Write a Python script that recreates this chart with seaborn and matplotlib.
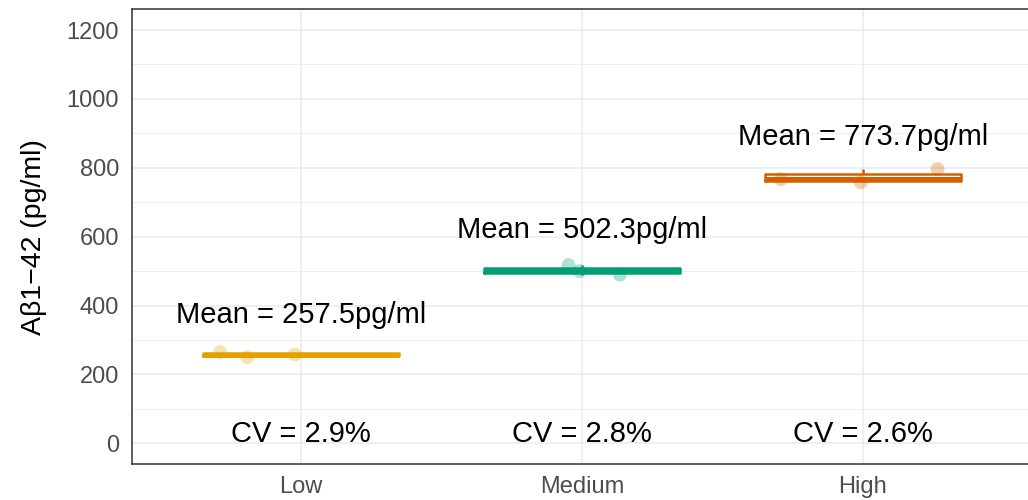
import numpy as np
import pandas as pd
import matplotlib
matplotlib.use("Agg")
import matplotlib.pyplot as plt
import seaborn as sns
from matplotlib.ticker import MultipleLocator

# =============================================================================
# Data
# =============================================================================
groups = ["Low", "Medium", "High"]
low_vals = [250.0, 265.0, 257.5]
medium_vals = [489.5, 517.5, 499.9]
high_vals = [767.0, 758.0, 796.1]
group_colors = ["#E69F00", "#009E73", "#D55E00"]
y_ticks = [0, 200, 400, 600, 800, 1000, 1200]

df = pd.DataFrame({
    "Group": np.repeat(groups, 3),
    "Abeta": low_vals + medium_vals + high_vals,
})
df["Group"] = pd.Categorical(df["Group"], categories=groups, ordered=True)

# mean and coefficient of variation per group
stats = df.groupby("Group", observed=True)["Abeta"].agg(["mean", "std"])
stats["cv"] = stats["std"] / stats["mean"] * 100

palette = dict(zip(groups, group_colors))

# =============================================================================
# Figure
# =============================================================================
sns.set_theme(style="white")
plt.rcParams["font.family"] = ["Liberation Sans", "DejaVu Sans"]

fig = plt.figure(figsize=(10.28, 5), dpi=100)
ax = fig.add_axes([0.1288, 0.0721, 0.8747, 0.9092])

np.random.seed(11)
sns.stripplot(data=df, x="Group", y="Abeta", hue="Group", palette=palette,
              jitter=0.3, size=10, alpha=0.3, linewidth=0, legend=False, ax=ax)
sns.boxplot(data=df, x="Group", y="Abeta", hue="Group", palette=palette,
            fill=False, width=0.7, linewidth=1.8, whis=(0, 100),
            showcaps=False, showfliers=False, legend=False,
            medianprops={"linewidth": 3.6}, ax=ax)

for i, g in enumerate(groups):
    m = stats.loc[g, "mean"]
    cv = stats.loc[g, "cv"]
    ax.text(i, m + 93, f"Mean = {m:.1f}pg/ml", ha="center", va="baseline",
            fontsize=21, color="black")
    ax.text(i, 3, f"CV = {cv:.1f}%", ha="center", va="baseline",
            fontsize=21, color="black")

# axes, grid (theme_bw look)
ax.set_xlim(-0.6, 2.6)
ax.set_ylim(-60, 1260)
ax.set_yticks(y_ticks)
ax.yaxis.set_minor_locator(MultipleLocator(100))
ax.set_axisbelow(True)
ax.grid(which="major", color="#EBEBEB", linewidth=1.1)
ax.grid(which="minor", axis="y", color="#EBEBEB", linewidth=0.6)
ax.tick_params(which="minor", length=0)
ax.tick_params(axis="both", which="major", length=5, width=1.0,
               color="#333333", labelcolor="#4D4D4D", labelsize=17)
ax.tick_params(axis="x", pad=3.5)
ax.tick_params(axis="y", pad=4.5)
for sp in ax.spines.values():
    sp.set_color("#333333")
    sp.set_linewidth(1.1)

ax.set_xlabel("")
ax.set_ylabel("Aβ1−42 (pg/ml)", fontsize=20.5, color="black", labelpad=14)

plt.savefig("out.png", dpi=100)
plt.close()
